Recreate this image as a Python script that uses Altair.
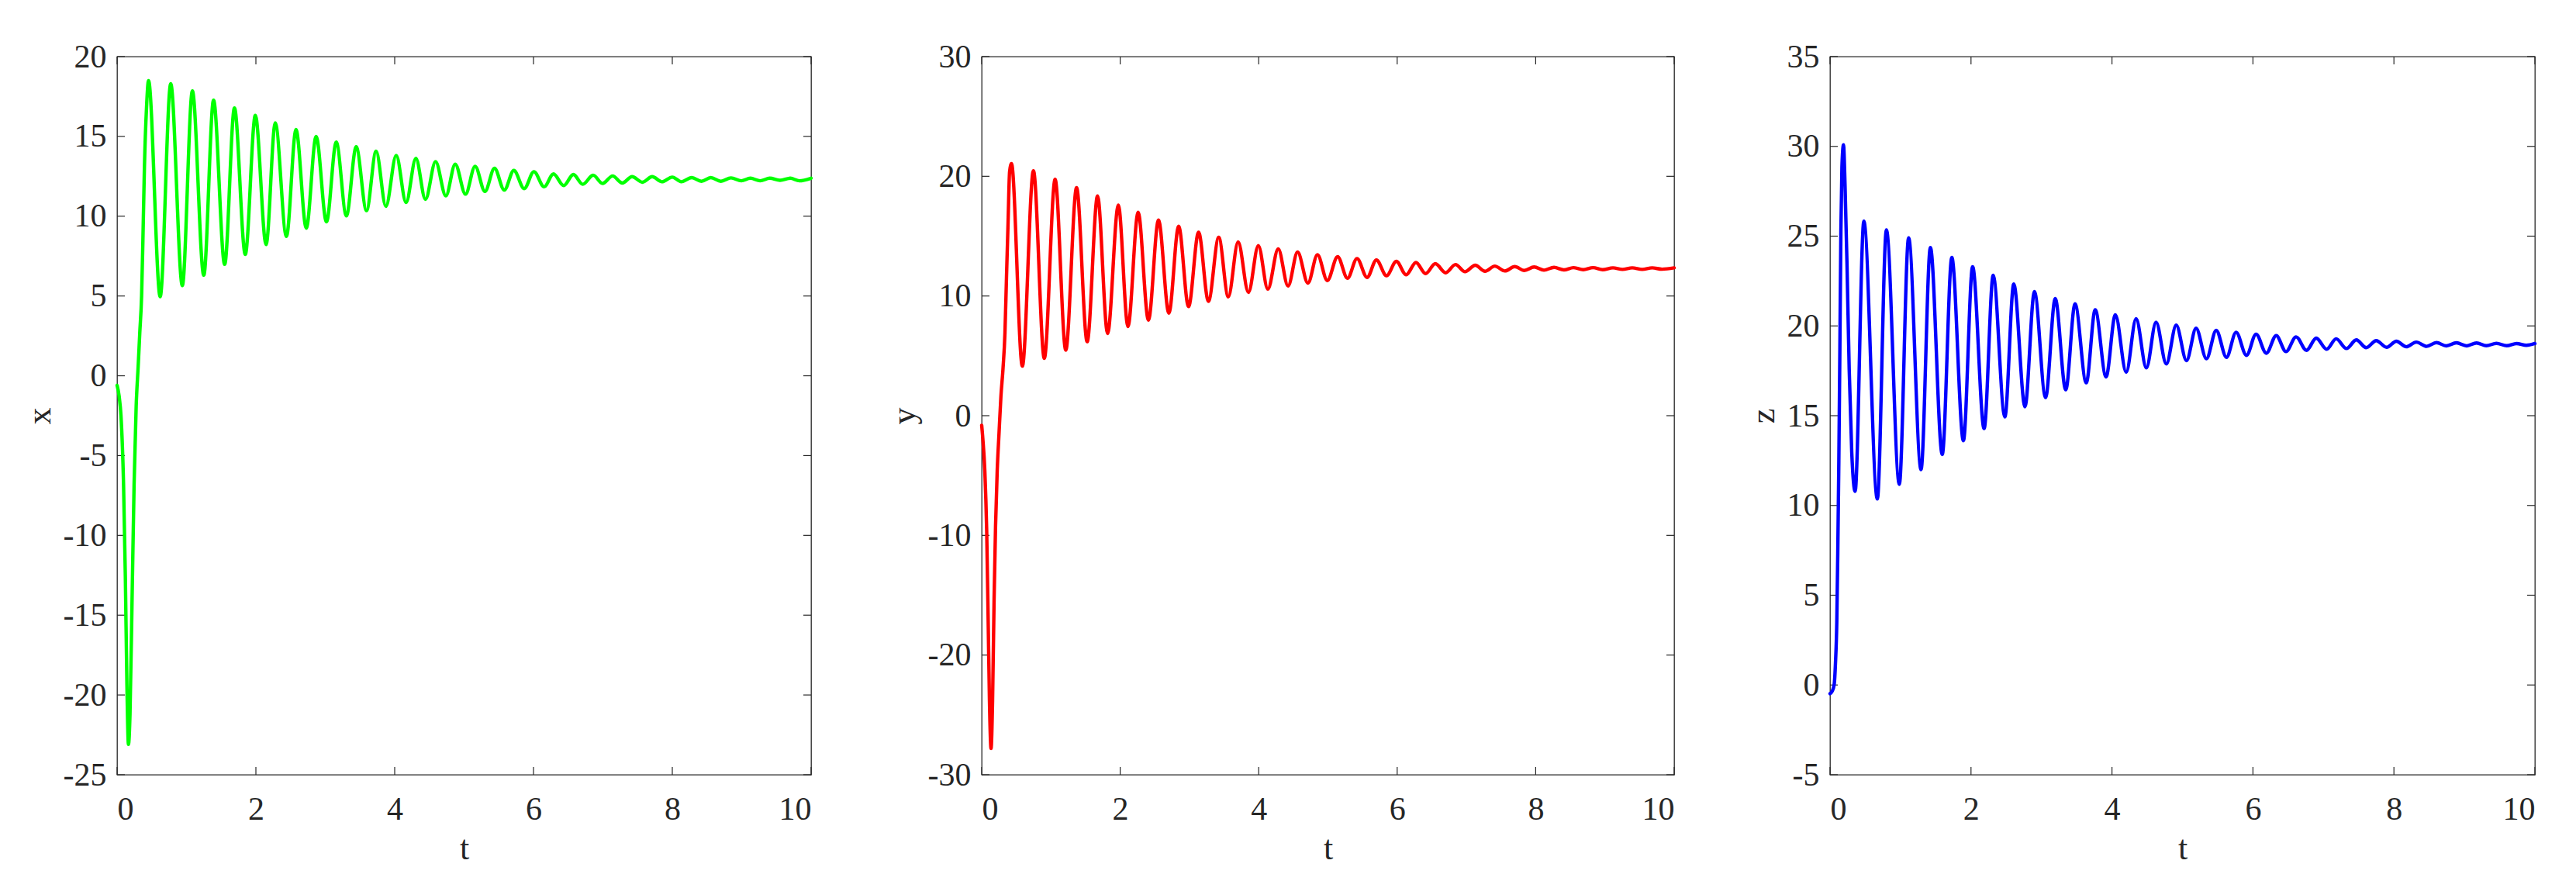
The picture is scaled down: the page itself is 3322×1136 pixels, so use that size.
import altair as alt
import pandas as pd

# ---------------- data ----------------
T_X = [0, 0.03, 0.056, 0.093, 0.119, 0.141, 0.164, 0.186, 0.216, 0.245, 0.275, 0.305, 0.327, 0.353, 0.372, 0.394, 0.424, 0.453,
       0.621, 0.773, 0.94, 1.085, 1.249, 1.39, 1.55, 1.691, 1.847, 1.992, 2.147, 2.279, 2.44, 2.578, 2.726, 2.868, 3.017, 3.158,
       3.304, 3.445, 3.594, 3.732, 3.873, 4.022, 4.164, 4.305, 4.443, 4.589, 4.737, 4.872, 5.02, 5.159, 5.30, 5.438, 5.579,
       5.717, 5.866, 6.006, 6.153, 6.287, 6.436, 6.574, 6.71, 6.86, 6.994, 7.14, 7.28, 7.42, 7.57, 7.71, 7.85, 8.0, 8.13,
       8.28, 8.42, 8.555, 8.70, 8.846, 8.994, 9.125, 9.266, 9.404, 9.553, 9.70, 9.83, 10.0]
X_VALS = [-0.6, -1.3, -2.5, -6.8, -12.6, -19.2, -23.1, -21.2, -14.0, -6.8, -1.9, 0.7, 2.7, 5.0, 8.5, 13.1, 16.8, 18.5,
          4.96, 18.3, 5.65, 17.85, 6.3, 17.27, 6.98, 16.78, 7.61, 16.32, 8.22, 15.85, 8.73, 15.43, 9.25, 15.0, 9.65, 14.64,
          10.02, 14.35, 10.35, 14.07, 10.62, 13.81, 10.86, 13.62, 11.06, 13.42, 11.27, 13.26, 11.38, 13.13, 11.55, 13.0, 11.64,
          12.87, 11.73, 12.79, 11.84, 12.65, 11.92, 12.61, 12.0, 12.57, 12.05, 12.52, 12.08, 12.48, 12.13, 12.48, 12.16, 12.45, 12.16,
          12.42, 12.19, 12.42, 12.19, 12.40, 12.22, 12.38, 12.22, 12.38, 12.25, 12.38, 12.22, 12.38]

T_Y = [0, 0.016, 0.045, 0.072, 0.094, 0.112, 0.135, 0.157, 0.179, 0.2, 0.224, 0.25, 0.277, 0.307, 0.336, 0.358, 0.381, 0.403, 0.43,
       0.587, 0.747, 0.904, 1.06, 1.214, 1.37, 1.523, 1.673, 1.818, 1.973, 2.112, 2.259, 2.408, 2.553, 2.703, 2.844, 2.987,
       3.132, 3.274, 3.423, 3.561, 3.703, 3.852, 3.995, 4.132, 4.282, 4.424, 4.562, 4.711, 4.849, 4.991, 5.14, 5.282, 5.42,
       5.565, 5.70, 5.846, 5.988, 6.13, 6.271, 6.41, 6.551, 6.70, 6.842, 6.98, 7.127, 7.268, 7.41, 7.555, 7.698, 7.836, 7.978,
       8.119, 8.265, 8.407, 8.545, 8.687, 8.829, 8.967, 9.116, 9.254, 9.395, 9.538, 9.683, 9.825, 10.0]
Y_VALS = [-0.8, -1.9, -4.6, -9.6, -17.3, -23.8, -27.8, -23.8, -15.3, -9.2, -4.6, -1.5, 1.56, 3.87, 6.95, 11.55, 16.17, 20.4, 21.06,
          4.14, 20.47, 4.79, 19.75, 5.48, 19.05, 6.18, 18.36, 6.87, 17.6, 7.45, 17.0, 7.98, 16.35, 8.57, 15.83, 9.11,
          15.33, 9.56, 14.9, 9.93, 14.51, 10.3, 14.21, 10.58, 13.93, 10.84, 13.67, 11.08, 13.45, 11.29, 13.28, 11.48, 13.13,
          11.55, 13.01, 11.69, 12.89, 11.77, 12.8, 11.87, 12.7, 11.94, 12.63, 12.03, 12.57, 12.07, 12.5, 12.09, 12.46, 12.13, 12.42,
          12.16, 12.39, 12.18, 12.37, 12.2, 12.37, 12.2, 12.35, 12.22, 12.35, 12.22, 12.35, 12.24, 12.35]

T_Z = [0, 0.03, 0.059, 0.077, 0.096, 0.11, 0.125, 0.14, 0.154, 0.169, 0.191, 0.213, 0.242, 0.272, 0.308, 0.356,
       0.48, 0.671, 0.80, 0.983, 1.115, 1.291, 1.424, 1.592, 1.728, 1.892, 2.023, 2.186, 2.315, 2.48, 2.607, 2.766, 2.9,
       3.058, 3.195, 3.344, 3.476, 3.635, 3.762, 3.916, 4.048, 4.202, 4.342, 4.488, 4.625, 4.771, 4.911, 5.057, 5.193,
       5.34, 5.479, 5.624, 5.761, 5.908, 6.044, 6.19, 6.33, 6.469, 6.612, 6.759, 6.898, 7.045, 7.18, 7.327, 7.466, 7.606,
       7.749, 7.896, 8.035, 8.174, 8.317, 8.464, 8.603, 8.743, 8.886, 9.032, 9.172, 9.311, 9.454, 9.6, 9.74, 9.879, 10.0]
Z_VALS = [-0.48, -0.35, 0.03, 1.19, 3.5, 7.34, 12.46, 18.87, 25.27, 28.86, 30.09, 27.83, 23.22, 17.58, 12.97, 10.79,
          25.83, 10.36, 25.35, 11.18, 24.91, 12.0, 24.37, 12.84, 23.81, 13.61, 23.3, 14.28, 22.82, 14.93, 22.34, 15.5, 21.91,
          16.01, 21.52, 16.44, 21.23, 16.83, 20.9, 17.16, 20.62, 17.42, 20.4, 17.66, 20.21, 17.88, 20.04, 18.07, 19.87,
          18.17, 19.75, 18.25, 19.65, 18.36, 19.54, 18.48, 19.46, 18.57, 19.39, 18.64, 19.32, 18.7, 19.28, 18.74, 19.22, 18.79,
          19.18, 18.81, 19.15, 18.84, 19.1, 18.86, 19.07, 18.89, 19.06, 18.89, 19.05, 18.9, 19.03, 18.9, 19.02, 18.92, 19.02]

assert len(T_X) == len(X_VALS) and len(T_Y) == len(Y_VALS) and len(T_Z) == len(Z_VALS)

T_TICKS = [0, 2, 4, 6, 8, 10]
X_TICKS = [-25, -20, -15, -10, -5, 0, 5, 10, 15, 20]
Y_TICKS = [-30, -20, -10, 0, 10, 20, 30]
Z_TICKS = [-5, 0, 5, 10, 15, 20, 25, 30, 35]

# ---------------- styling ----------------
FONT = "Liberation Serif"
INK = "#262626"
H = 926
TICK = 10
LABEL_SIZE = 42
TITLE_SIZE = 44


def panel(t, v, color, name, domain, yticks, width):
    df = pd.DataFrame({"t": t, "v": v})
    xs = alt.Scale(domain=[0, 10], nice=False, zero=False)
    ys = alt.Scale(domain=domain, nice=False, zero=False)
    xaxis = alt.Axis(values=T_TICKS, title="t", labelExpr="'' + datum.value",
                     labelPadding=24, titlePadding=8)
    yaxis = alt.Axis(values=yticks, title=name, labelExpr="'' + datum.value",
                     labelPadding=14, titlePadding=8)
    line = alt.Chart(df).mark_line(color=color, strokeWidth=4.4, interpolate="monotone",
                                   strokeCap="round", strokeJoin="round").encode(
        x=alt.X("t:Q", scale=xs, axis=xaxis),
        y=alt.Y("v:Q", scale=ys, axis=yaxis),
    )
    ydf = pd.DataFrame({"v": yticks})
    xdf = pd.DataFrame({"t": T_TICKS})
    left = alt.Chart(ydf).mark_rule(color=INK, strokeWidth=1.2).encode(
        y=alt.Y("v:Q", scale=ys, axis=yaxis), x=alt.value(0), x2=alt.value(TICK))
    right = alt.Chart(ydf).mark_rule(color=INK, strokeWidth=1.2).encode(
        y=alt.Y("v:Q", scale=ys, axis=yaxis), x=alt.value(width - TICK), x2=alt.value(width))
    bottom = alt.Chart(xdf).mark_rule(color=INK, strokeWidth=1.2).encode(
        x=alt.X("t:Q", scale=xs, axis=xaxis), y=alt.value(H - TICK), y2=alt.value(H))
    top = alt.Chart(xdf).mark_rule(color=INK, strokeWidth=1.2).encode(
        x=alt.X("t:Q", scale=xs, axis=xaxis), y=alt.value(0), y2=alt.value(TICK))
    return alt.layer(left, right, bottom, top, line).properties(width=width, height=H)


p1 = panel(T_X, X_VALS, "#00FF00", "x", [-25, 20], X_TICKS, 895)
p2 = panel(T_Y, Y_VALS, "#FF0000", "y", [-30, 30], Y_TICKS, 893)
p3 = panel(T_Z, Z_VALS, "#0000FF", "z", [-5, 35], Z_TICKS, 909)

chart = alt.hconcat(alt.hconcat(p1, p2, spacing=94), p3, spacing=89).properties(
    padding={"left": 20, "top": 43, "right": 5, "bottom": 5},
    background="white",
).configure_view(
    stroke=INK, strokeWidth=1.3
).configure_axis(
    grid=False, ticks=False, domain=False,
    labelFont=FONT, titleFont=FONT,
    labelFontSize=LABEL_SIZE, titleFontSize=TITLE_SIZE,
    labelColor=INK, titleColor=INK, titleFontWeight="normal",
)

chart.save("out.html", embed_options={"renderer": "svg", "actions": False})
